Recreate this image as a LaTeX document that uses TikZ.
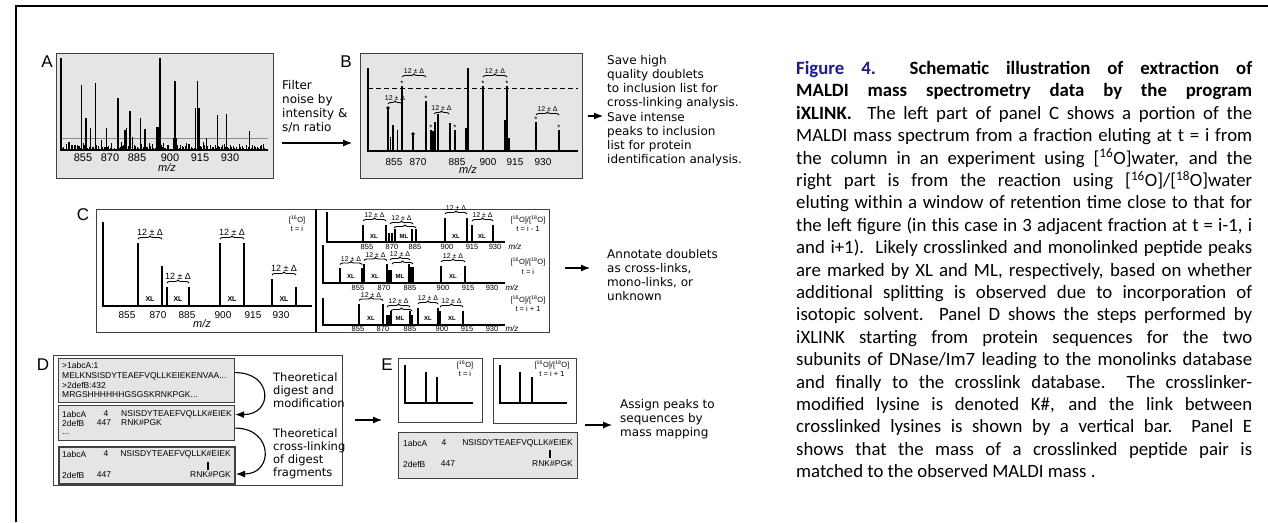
\documentclass[tikz,border=0pt]{standalone}
\usepackage{fontspec}
\setmainfont{Carlito}
\newfontfamily\afont{Liberation Sans}
\newfontfamily\gfont{DejaVu Sans}
\usepackage{tikz}
\usetikzlibrary{arrows.meta, positioning, decorations.pathreplacing}
\definecolor{figblue}{RGB}{28,28,140}
\newcommand{\jline}[1]{\makebox[456pt][s]{#1}\\}
\newcommand{\isoO}[1]{[\textsuperscript{#1}O]}

\begin{document}
\begin{tikzpicture}[
  x=1pt, y=-1pt,
  panel/.style={draw=black!75, line width=1pt, fill=black!10, anchor=north west, inner sep=0pt},
  wpanel/.style={panel, fill=white},
  plabel/.style={font=\afont\fontsize{17}{17}\selectfont, inner sep=0pt},
  note/.style={font=\gfont\fontsize{12}{14.2}\selectfont, align=left, anchor=north west, inner sep=0pt},
  tick/.style={font=\afont\fontsize{#1}{#1}\selectfont, inner sep=0pt},
  tick/.default=10.5,
  dlt/.style={font=\afont\fontsize{#1}{#1}\selectfont, inner sep=0pt},
  dlt/.default=7,
  xl/.style={font=\afont\bfseries\fontsize{#1}{#1}\selectfont, inner sep=0pt},
  xl/.default=6.5,
  mz/.style={font=\afont\itshape\fontsize{#1}{#1}\selectfont, inner sep=0pt},
  seq/.style={font=\afont\fontsize{8.5}{8.5}\selectfont, inner sep=0pt},
  axs/.style={line width=1.8pt},
  pk/.style={line width=1.5pt},
  brc/.style={decorate, decoration={brace, amplitude=3pt}, line width=0.9pt},
  astk/.style={font=\afont\fontsize{8}{8}\selectfont, inner sep=0pt},
  arrow/.style={-{Latex[length=9pt, width=7pt]}, line width=1.1pt},
  capt/.style={font=\fontsize{18.8}{22.4}\selectfont, align=left, anchor=north west, inner sep=0pt}
]
\useasboundingbox (0,0) rectangle (1268,522);
\draw[line width=2.4pt] (16,522) -- (16,6) -- (1268,6);

% Panel A
\node[panel, minimum width=217pt, minimum height=125pt] (pa) at (56,53) {};
\node[plabel] (la) at (47,62) {A};
\draw[black!45, line width=0.8pt] (62,138) -- (268,138);
\pgfmathsetseed{42}
\foreach \i in {0,...,136}{
  \pgfmathsetmacro{\nx}{62+1.5*\i}
  \pgfmathsetmacro{\ny}{149-5*rnd}
  \draw[line width=1pt] (\nx,150) -- (\nx,\ny);
}
\foreach \x/\t in {69/142, 75/147, 79/146, 81.7/85, 83.3/143, 86/118, 90.7/128, 95.3/83,
  101.7/140, 106.7/128, 111.7/143, 118/98, 121.7/142, 125/130, 126.7/128, 130/111,
  132.3/137, 140.7/118, 145/129, 149.3/143, 157/127, 158/127, 160/58, 163.3/143,
  175/81, 173.5/138, 176.5/138, 186.7/143, 195.5/108, 197.7/81, 199/108, 203.3/142,
  206.7/138, 217.7/115, 226.7/114, 233.3/146, 249.3/131}
  \draw[pk] (\x,150) -- (\x,\t);
\draw[axs] (61,58) -- (61,150) -- (268,150);
\foreach \x/\t in {83/855, 110/870, 137/885, 170/900, 200/915, 230/930}
  \node[tick=11] (ta\t) at (\x,158) {\t};
\node[mz=11] (mza) at (167,168) {m/z};

% A -> B
\node[note] (filt) at (282,80) {Filter\\noise by\\intensity \&\\s/n ratio};
\coordinate (ab0) at (282,143);
\coordinate (ab1) at (352,143);
\draw[arrow] (ab0) -- (ab1);

% Panel B
\node[panel, minimum width=222pt, minimum height=125pt] (pb) at (360,53) {};
\node[plabel] (lb) at (346,62) {B};
\draw[line width=1pt, dash pattern=on 5pt off 3pt] (368,88) -- (578,88);
\foreach \x/\t in {388/108, 390.5/137, 393/125, 397.5/130, 402/86, 413/134, 426/101,
  431/130, 433/131, 435/122, 438/114, 450/123, 455/130, 468/68, 483/86, 507/86,
  536/122, 559/130}
  \draw[pk, line width=1.3pt] (\x,151) -- (\x,\t);
\foreach \x/\t in {466.5/128, 505.5/120, 509/138}
  \draw[line width=2.2pt] (\x,151) -- (\x,\t);
\fill (388,108) circle[radius=1.8pt];
\fill (413,134) circle[radius=1.8pt];
\foreach \x/\y [count=\k] in {402/84, 426/99, 431/128, 455/128, 483/84, 507/84, 536/120, 559/128}
  \node[astk] (st\k) at (\x,\y) {*};
\draw[brc] (388,104) -- node[dlt=7, above=3pt] (db1) {12 ± Δ} (402,104);
\draw[brc] (402,77) -- node[dlt=7, above=3pt] (db2) {12 ± Δ} (426,77);
\draw[brc] (434,114) -- node[dlt=7, above=3pt] (db3) {12 ± Δ} (449,114);
\draw[brc] (483,77) -- node[dlt=7, above=3pt] (db4) {12 ± Δ} (507,77);
\draw[brc] (536,115) -- node[dlt=7, above=3pt] (db5) {12 ± Δ} (559,115);
\draw[axs] (368,68) -- (368,151) -- (578,151);
\foreach \x/\t in {394/855, 418/870, 457/885, 488/900, 515/915, 543/930}
  \node[tick=10] (tb\t) at (\x,162) {\t};
\node[mz=11] (mzb) at (468,170) {m/z};

% B -> note
\node[note] (bnote) at (607,55) {Save high\\quality doublets\\to inclusion list for\\cross-linking analysis.\\Save intense\\peaks to inclusion\\list for protein\\identification analysis.};
\coordinate (bn0) at (588,116);
\coordinate (bn1) at (603,116);
\draw[arrow] (bn0) -- (bn1);

% Panel C
\node[wpanel, minimum width=453pt, minimum height=123pt] (pc) at (96,209) {};
\node[plabel] (lc) at (83,215) {C};
\draw[line width=1.2pt] (316,209) -- (316,332);
% left part
\draw[axs, line width=1.6pt] (103,222) -- (103,306) -- (312,306);
\foreach \x/\t in {138/243, 162/266, 167/287, 189/287, 220/243, 244/243, 272/279, 296/287}
  \draw[pk] (\x,306) -- (\x,\t);
\draw[brc] (138,239) -- node[dlt=9, above=3pt] (dc1) {12 ± Δ} (162,239);
\draw[brc] (167,283) -- node[dlt=9, above=3pt] (dc2) {12 ± Δ} (189,283);
\draw[brc] (220,239) -- node[dlt=9, above=3pt] (dc3) {12 ± Δ} (244,239);
\draw[brc] (272,275) -- node[dlt=9, above=3pt] (dc4) {12 ± Δ} (296,275);
\foreach \x [count=\k] in {150, 178, 232, 284}
  \node[xl=7] (xc\k) at (\x,299) {XL};
\foreach \x/\t in {127/855, 158/870, 187/885, 223/900, 253/915, 281/930}
  \node[tick=10] (tc\t) at (\x,315) {\t};
\node[mz=11] (mzc) at (202,324) {m/z};
\node[dlt=7.5] (ic0) at (297,220) {\isoO{16}};
\node[dlt=7.5] (tc0) at (297,229) {t = i};

% right part, t = i - 1
\draw[axs, line width=1.5pt] (327,212) -- (327,242) -- (505,242);
\foreach \x/\t in {363/225, 386/225, 389/233, 392/233, 395/229, 412/229, 416/229,
  445/218, 467/218, 472/225, 493/225}
  \draw[pk, line width=1.1pt] (\x,242) -- (\x,\t);
\draw[brc] (363,221) -- node[dlt, above=3pt] (r1a) {12 ± Δ} (386,221);
\draw[brc] (390,224) -- node[dlt, above=3pt] (r1b) {12 ± Δ} (413,224);
\draw[brc] (394,228) -- (416,228);
\draw[brc] (445,214) -- node[dlt, above=3pt] (r1c) {12 ± Δ} (467,214);
\draw[brc] (472,221) -- node[dlt, above=3pt] (r1d) {12 ± Δ} (493,221);
\foreach \x/\t [count=\k] in {374/XL, 404/ML, 456/XL, 482/XL}
  \node[xl=6] (x1\k) at (\x,236) {\t};
\foreach \x/\t in {367/855, 392/870, 415/885, 447/900, 472/915, 495/930}
  \node[tick=7.5] (t1\t) at (\x,246.5) {\t};
\node[mz=8] (mz1) at (515,246.5) {m/z};
\node[dlt=7.5] (ic1) at (528,220) {\isoO{16}/\isoO{18}};
\node[dlt=7.5] (tt1) at (528,229) {t = i - 1};

% right part, t = i
\draw[axs, line width=1.5pt] (323,245) -- (323,283) -- (505,283);
\foreach \x/\t in {340/268, 362/268, 364/264, 387/264, 389/270, 391/270, 409/264,
  411/267, 413/267, 441/266, 465/266}
  \draw[pk, line width=1.1pt] (\x,283) -- (\x,\t);
\draw[brc] (340,264.5) -- node[dlt, above=3pt] (r2a) {12 ± Δ} (362,264.5);
\draw[brc] (364,260.5) -- node[dlt, above=3pt] (r2b) {12 ± Δ} (387,260.5);
\draw[brc] (390,260) -- node[dlt, above=3pt] (r2c) {12 ± Δ} (410,260);
\draw[brc] (392,264) -- (413,264);
\draw[brc] (441,262) -- node[dlt, above=3pt] (r2d) {12 ± Δ} (465,262);
\foreach \x/\t [count=\k] in {351/XL, 375/XL, 400/ML, 453/XL}
  \node[xl=6] (x2\k) at (\x,276) {\t};
\foreach \x/\t in {358/855, 384/870, 410/885, 443/900, 468/915, 492/930}
  \node[tick=7.5] (t2\t) at (\x,288) {\t};
\node[mz=8] (mz2) at (512,288) {m/z};
\node[dlt=7.5] (ic2) at (528,262) {\isoO{16}/\isoO{18}};
\node[dlt=7.5] (tt2) at (528,272) {t = i};

% right part, t = i + 1
\draw[axs, line width=1.5pt] (323,298) -- (323,325) -- (505,325);
\foreach \x/\t in {359/304, 383/304, 387/315, 389/315, 391/311, 410/311, 412/315,
  418/308, 438/308, 440/311, 463/311}
  \draw[pk, line width=1.1pt] (\x,325) -- (\x,\t);
\draw[brc] (359,300.5) -- node[dlt, above=3pt] (r3a) {12 ± Δ} (383,300.5);
\draw[brc] (387,307) -- node[dlt, above=3pt] (r3b) {12 ± Δ} (410,307);
\draw[brc] (391,311) -- (412,311);
\draw[brc] (418,304) -- node[dlt, above=3pt] (r3c) {12 ± Δ} (438,304);
\draw[brc] (440,307) -- node[dlt, above=3pt] (r3d) {12 ± Δ} (463,307);
\foreach \x/\t [count=\k] in {371/XL, 400/ML, 428/XL, 452/XL}
  \node[xl=6] (x3\k) at (\x,318) {\t};
\foreach \x/\t in {358/855, 383/870, 410/885, 442/900, 467/915, 492/930}
  \node[tick=7.5] (t3\t) at (\x,329) {\t};
\node[mz=8] (mz3) at (512,329) {m/z};
\node[dlt=7.5] (ic3) at (528,300) {\isoO{16}/\isoO{18}};
\node[dlt=7.5] (tt3) at (528,309) {t = i + 1};

% C -> note
\node[note] (cnote) at (607,249) {Annotate doublets\\as cross-links,\\mono-links, or\\unknown};
\coordinate (cn0) at (565,268);
\coordinate (cn1) at (590,268);
\draw[arrow] (cn0) -- (cn1);

% Panel D
\node[wpanel, minimum width=289pt, minimum height=130pt] (pd) at (53,355) {};
\node[plabel] (ld) at (43,365) {D};
\node[panel, line width=1.2pt, minimum width=176pt, minimum height=44pt] (d1) at (58,358) {};
\node[panel, line width=1.2pt, minimum width=176pt, minimum height=35pt] (d2) at (58,405) {};
\node[panel, line width=2pt, minimum width=176pt, minimum height=37pt] (d3) at (58,446) {};
\node[seq, anchor=west] (s11) at (62,365) {>1abcA:1};
\node[seq, anchor=west] (s12) at (62,376) {MELKNSISDYTEAEFVQLLKEIEKENVAA...};
\node[seq, anchor=west] (s13) at (62,385) {>2defB:432};
\node[seq, anchor=west] (s14) at (62,395) {MRGSHHHHHHGSGSKRNKPGK...};
\node[seq, anchor=west] (s21) at (62,414) {1abcA};
\node[seq] (s22) at (106,414) {4};
\node[seq, anchor=west] (s23) at (121,414) {NSISDYTEAEFVQLLK\#EIEK};
\node[seq, anchor=west] (s24) at (62,423) {2defB};
\node[seq] (s25) at (104,423) {447};
\node[seq, anchor=west] (s26) at (121,423) {RNK\#PGK};
\node[seq, anchor=west] (s27) at (62,434) {...};
\node[seq, anchor=west] (s31) at (62,454) {1abcA};
\node[seq] (s32) at (106,454) {4};
\node[seq, anchor=east] (s33) at (231,454) {NSISDYTEAEFVQLLK\#EIEK};
\node[seq, anchor=west] (s34) at (62,475) {2defB};
\node[seq] (s35) at (104,475) {447};
\node[seq, anchor=east] (s36) at (231,475) {RNK\#PGK};
\draw[line width=1.8pt] (208,462) -- (208,470);
\draw[arrow] ([yshift=8pt]d1.east) .. controls +(38,0) and +(38,0) .. ([yshift=8.5pt]d2.east);
\draw[arrow] ([yshift=-5pt]d2.east) .. controls +(38,0) and +(38,0) .. ([yshift=-8.5pt]d3.east);
\node[note, font=\gfont\fontsize{11.5}{12.7}\selectfont] (dn1) at (273,373) {Theoretical\\digest and\\modification};
\node[note, font=\gfont\fontsize{11.5}{12.7}\selectfont] (dn2) at (273,429) {Theoretical\\cross-linking\\of digest\\fragments};

% D -> E
\coordinate (de0) at (355,420);
\coordinate (de1) at (382,420);
\draw[arrow] (de0) -- (de1);

% Panel E
\node[plabel] (le) at (387,365) {E};
\node[wpanel, minimum width=84pt, minimum height=64pt] (e1) at (398,358) {};
\node[wpanel, minimum width=83pt, minimum height=65pt] (e2) at (493,358) {};
\node[panel, minimum width=179pt, minimum height=46pt] (e3) at (398,432) {};
\draw[axs, line width=1.5pt] (405,365) -- (405,403) -- (473,403);
\draw[pk, line width=1.2pt] (426,403) -- (426,372);
\draw[pk, line width=1.2pt] (437,403) -- (437,377);
\node[dlt=7.5] (ie1) at (465,365) {\isoO{16}};
\node[dlt=7.5] (te1) at (465,374) {t = i};
\draw[axs, line width=1.5pt] (500,365) -- (500,403) -- (567,403);
\draw[pk, line width=1.2pt] (520,403) -- (520,372);
\draw[pk, line width=1.2pt] (532,403) -- (532,377);
\node[dlt=7.5] (ie2) at (552,365) {\isoO{16}/\isoO{18}};
\node[dlt=7.5] (te2) at (552,374) {t = i + 1};
\node[seq, anchor=west] (e31) at (403,443) {1abcA};
\node[seq] (e32) at (444,443) {4};
\node[seq, anchor=east] (e33) at (573,443) {NSISDYTEAEFVQLLK\#EIEK};
\node[seq, anchor=west] (e34) at (403,464) {2defB};
\node[seq] (e35) at (448,464) {447};
\node[seq, anchor=east] (e36) at (573,464) {RNK\#PGK};
\draw[line width=1.8pt] (550,450) -- (550,458);

% E -> note
\node[note] (enote) at (620,399) {Assign peaks to\\sequences by\\mass mapping};
\coordinate (en0) at (585,425);
\coordinate (en1) at (612,425);
\draw[arrow] (en0) -- (en1);

% caption
\node[capt] (cap) at (796,61) {%
\jline{{\color{figblue}\bfseries Figure 4.}\ \ \textbf{Schematic illustration of extraction of}}
\jline{\textbf{MALDI mass spectrometry data by the program}}
\jline{\textbf{iXLINK.}\ \ The left part of panel C shows a portion of the}
\jline{MALDI mass spectrum from a fraction eluting at t = i from}
\jline{the column in an experiment using \isoO{16}water, and the}
\jline{right part is from the reaction using \isoO{16}/\isoO{18}water}
\jline{eluting within a window of retention time close to that for}
\jline{the left figure (in this case in 3 adjacent fraction at t = i-1, i}
\jline{and i+1).\ \ Likely crosslinked and monolinked peptide peaks}
\jline{are marked by XL and ML, respectively, based on whether}
\jline{additional splitting is observed due to incorporation of}
\jline{isotopic solvent.\ \ Panel D shows the steps performed by}
\jline{iXLINK starting from protein sequences for the two}
\jline{subunits of DNase/Im7 leading to the monolinks database}
\jline{and finally to the crosslink database.\ \ The crosslinker-}
\jline{modified lysine is denoted K\#, and the link between}
\jline{crosslinked lysines is shown by a vertical bar.\ \ Panel E}
\jline{shows that the mass of a crosslinked peptide pair is}
matched to the observed MALDI mass .};

\end{tikzpicture}
\end{document}
